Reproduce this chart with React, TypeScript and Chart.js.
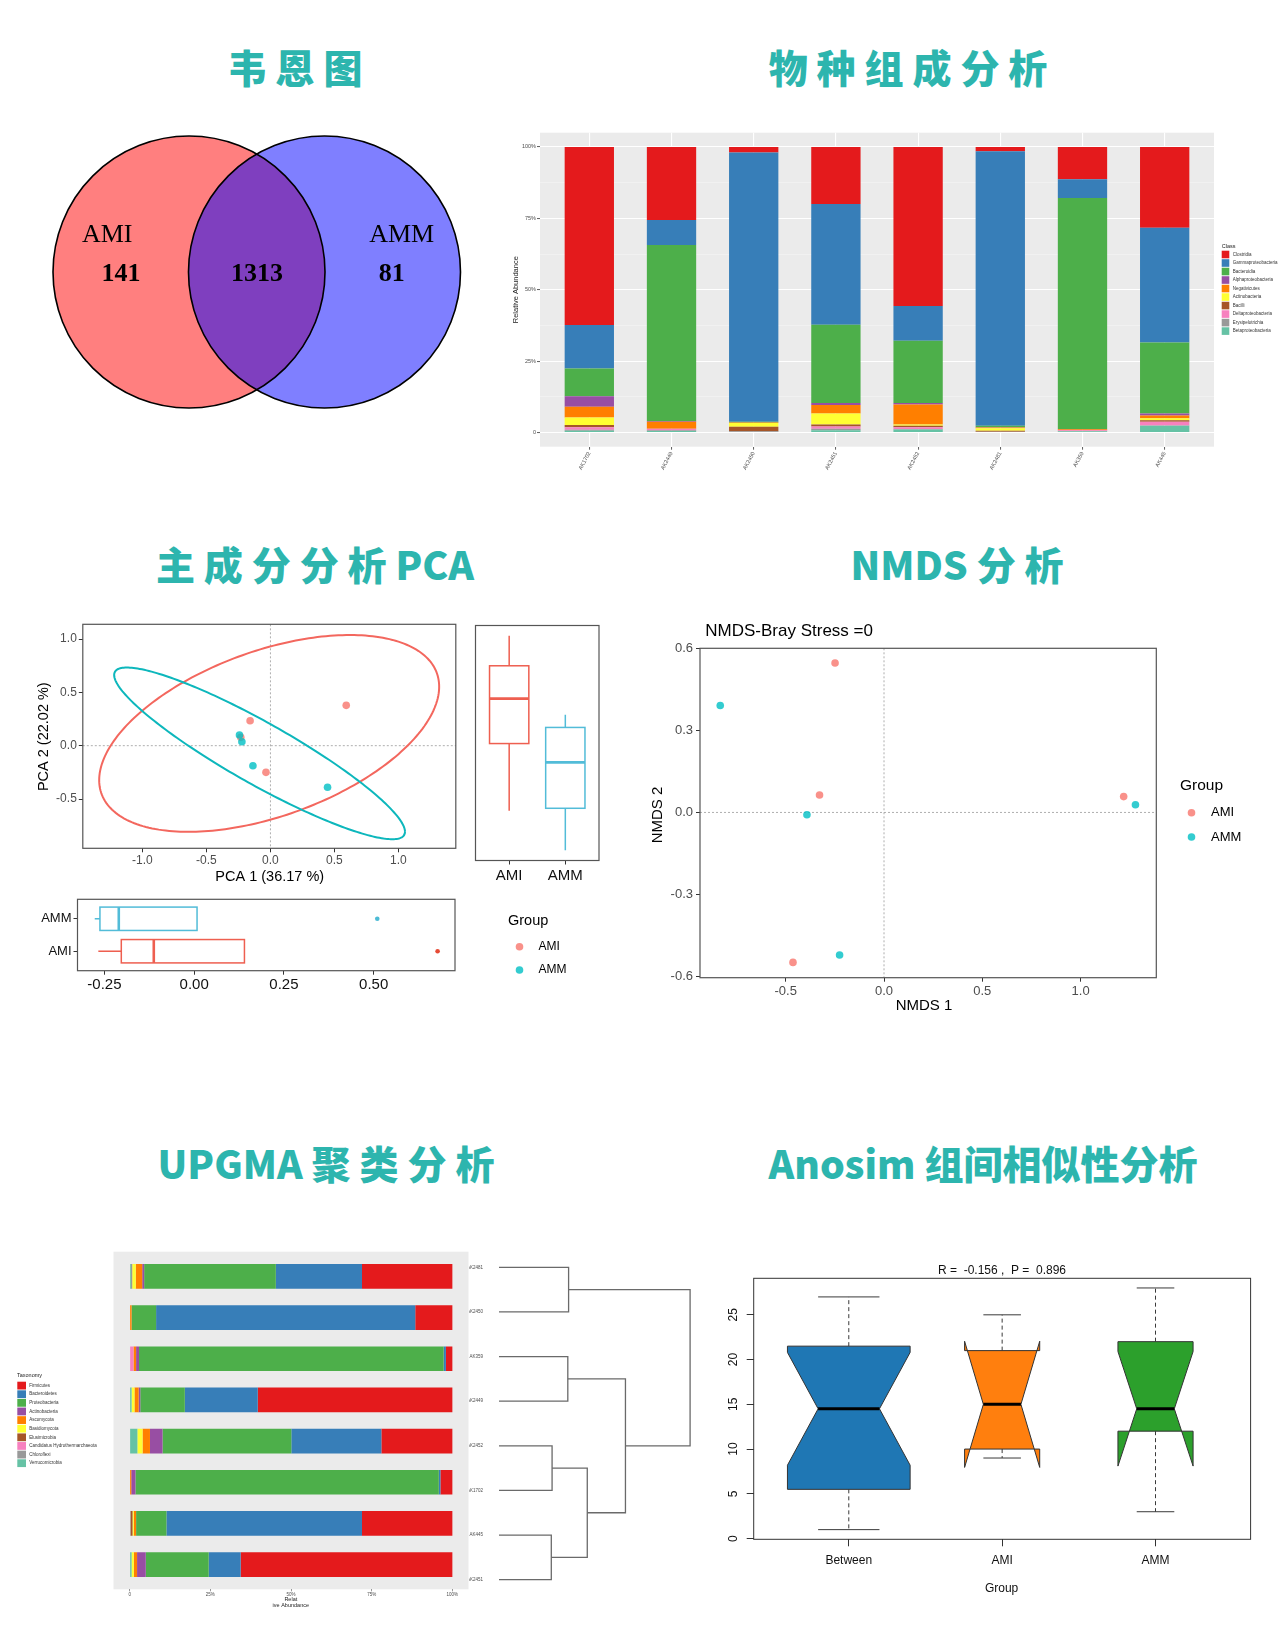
import React, { useEffect, useRef } from 'react';
import { Chart, registerables } from 'chart.js';

Chart.register(...registerables);
if (typeof document !== 'undefined') document.body.style.margin = '0';

const SANS = '"Liberation Sans", Arial, Helvetica, sans-serif';
const SERIF = '"Liberation Serif", "Times New Roman", serif';
const CJK = '"Noto Sans CJK SC", "Noto Sans", sans-serif';
Chart.defaults.font.family = SANS;

/* ====================== DATA ====================== */
// Venn
const vennSets = ['AMI', 'AMM'];
const vennCounts = [141, 1313, 81]; // AMI only, shared, AMM only

// Class composition (relative abundance, %)
const classSamples = ['AK1702', 'AK2449', 'AK2450', 'AK2451', 'AK2452', 'AK2481', 'AK359', 'AK445'];
const classNames = ['Clostridia', 'Gammaproteobacteria', 'Bacteroidia', 'Alphaproteobacteria', 'Negativicutes', 'Actinobacteria', 'Bacilli', 'Deltaproteobacteria', 'Erysipelotrichia', 'Betaproteobacteria'];
const clostridia = [62.4, 25.6, 1.9, 20.0, 55.7, 1.5, 11.3, 28.3];
const gammaproteobacteria = [15.2, 8.7, 94.4, 42.3, 12.2, 96.2, 6.6, 40.2];
const bacteroidia = [9.7, 61.7, 0.2, 27.4, 21.8, 0.5, 80.9, 24.9];
const alphaproteobacteria = [3.7, 0.3, 0.0, 0.7, 0.5, 0.1, 0.1, 0.7];
const negativicutes = [3.8, 2.4, 0.2, 3.0, 7.0, 0.2, 0.3, 0.9];
const actinobacteriaC = [2.6, 0.0, 1.3, 3.8, 0.5, 0.9, 0.0, 0.7];
const bacilli = [0.8, 0.0, 1.6, 0.7, 0.5, 0.4, 0.0, 0.6];
const deltaproteobacteria = [0.9, 0.5, 0.0, 0.8, 0.6, 0.0, 0.4, 1.3];
const erysipelotrichia = [0.3, 0.3, 0.4, 0.5, 0.2, 0.2, 0.0, 0.1];
const betaproteobacteria = [0.6, 0.5, 0.0, 0.8, 1.0, 0.0, 0.4, 2.3];
const classValues = [clostridia, gammaproteobacteria, bacteroidia, alphaproteobacteria, negativicutes, actinobacteriaC, bacilli, deltaproteobacteria, erysipelotrichia, betaproteobacteria];
const classYTicks = [0, 12.5, 25, 37.5, 50, 62.5, 75, 87.5, 100];
const classYTickLabels = ['0', '', '25%', '', '50%', '', '75%', '', '100%'];

// PCA
const groupNames = ['AMI', 'AMM'];
const pcaAmiPc1 = [0.592, -0.159, -0.035, -0.232];
const pcaAmiPc2 = [0.378, 0.234, -0.25, 0.078];
const pcaAmmPc1 = [-0.242, -0.223, -0.137, 0.446];
const pcaAmmPc2 = [0.1, 0.0375, -0.1875, -0.39];
const pcaXTicks = [-1, -0.5, 0, 0.5, 1];
const pcaXTickLabels = ['-1.0', '-0.5', '0.0', '0.5', '1.0'];
const pcaYTicks = [-0.5, 0, 0.5, 1];
const pcaYTickLabels = ['-0.5', '0.0', '0.5', '1.0'];
const pcaXTitle = 'PCA 1 (36.17 %)';
const pcaYTitle = 'PCA 2 (22.02 %)';
// confidence ellipses (centre and two conjugate semi-axes, PCA units)
const ellipseAmiCenter = [-0.01, 0.115];
const ellipseAmiAxisA = [1.328, 0.438];
const ellipseAmiAxisB = [0, 0.812];
const ellipseAmmCenter = [-0.085, -0.072];
const ellipseAmmAxisA = [1.136, -0.734];
const ellipseAmmAxisB = [0, 0.33];
// marginal boxplots: [lower whisker, Q1, median, Q3, upper whisker]
const pc2BoxAmi = [-0.252, -0.01, 0.152, 0.27, 0.378];
const pc2BoxAmm = [-0.394, -0.243, -0.078, 0.048, 0.094];
const pc1BoxAmi = [-0.267, -0.203, -0.1125, 0.14, 0.14];
const pc1BoxAmm = [-0.277, -0.2625, -0.21, 0.008, 0.008];
const pc1OutlierAmi = [0.678];
const pc1OutlierAmm = [0.51];
const pc1Ticks = [-0.25, 0, 0.25, 0.5];
const pc1TickLabels = ['-0.25', '0.00', '0.25', '0.50'];

// NMDS
const nmdsAmiX = [-0.249, -0.328, -0.463, 1.219];
const nmdsAmiY = [0.546, 0.064, -0.548, 0.058];
const nmdsAmmX = [-0.833, -0.392, -0.226, 1.279];
const nmdsAmmY = [0.391, -0.0085, -0.521, 0.028];
const nmdsXTicks = [-0.5, 0, 0.5, 1];
const nmdsXTickLabels = ['-0.5', '0.0', '0.5', '1.0'];
const nmdsYTicks = [-0.6, -0.3, 0, 0.3, 0.6];
const nmdsYTickLabels = ['-0.6', '-0.3', '0.0', '0.3', '0.6'];
const nmdsTitle = 'NMDS-Bray Stress =0';

// UPGMA (phylum composition, %, bars top to bottom)
const taxaNames = ['Firmicutes', 'Bacteroidetes', 'Proteobacteria', 'Actinobacteria', 'Ascomycota', 'Basidiomycota', 'Elusimicrobia', 'Candidatus Hydrothermarchaeota', 'Chloroflexi', 'Verrucomicrobia'];
const firmicutes = [28.0, 11.5, 2.0, 60.3, 22.0, 3.7, 28.0, 65.6];
const bacteroidetes = [26.7, 80.3, 0.7, 22.6, 27.9, 0.5, 60.6, 9.9];
const proteobacteria = [40.8, 7.6, 94.4, 13.8, 39.9, 94.0, 9.4, 19.5];
const actinobacteriaP = [0.6, 0.0, 0.9, 0.5, 3.9, 1.3, 0.0, 2.7];
const ascomycota = [2.0, 0.6, 0.8, 1.3, 2.3, 0.5, 0.7, 1.0];
const basidiomycota = [1.1, 0.0, 0.0, 0.9, 1.6, 0.0, 0.4, 0.7];
const elusimicrobia = [0, 0, 0, 0, 0, 0, 0.6, 0];
const candidatusHydro = [0, 0, 1.2, 0, 0, 0, 0, 0];
const chloroflexi = [0.4, 0, 0, 0, 0, 0, 0.3, 0];
const verrucomicrobia = [0.4, 0, 0, 0.6, 2.4, 0, 0, 0.6];
const taxaValues = [firmicutes, bacteroidetes, proteobacteria, actinobacteriaP, ascomycota, basidiomycota, elusimicrobia, candidatusHydro, chloroflexi, verrucomicrobia];
const upgmaXTicks = [0, 25, 50, 75, 100];
const upgmaXTickLabels = ['0', '25%', '50%', '75%', '100%'];
const dendroLeaves = ['AK2481', 'AK2450', 'AK359', 'AK2449', 'AK2452', 'AK1702', 'AK445', 'AK2451'];
const mergeLeft = [-1, -3, -5, -7, 3, 2, 1];
const mergeRight = [-2, -4, -6, -8, 4, 5, 6];
const mergeHeight = [0.177, 0.175, 0.135, 0.133, 0.2245, 0.3216, 0.486];
const dendroTicks = [0, 0.1, 0.2, 0.3, 0.4, 0.5];
const dendroTickLabels = ['0.0', '0.1', '0.2', '0.3', '0.4', '0.5'];

// Anosim
const anosimGroups = ['Between', 'AMI', 'AMM'];
const anosimMin = [1, 9, 3];
const anosimQ1 = [5.5, 10, 12];
const anosimMedian = [14.5, 15, 14.5];
const anosimQ3 = [21.5, 21, 22];
const anosimMax = [27, 25, 28];
const anosimNotchLow = [8.2, 7.95, 8.1];
const anosimNotchHigh = [20.8, 22.05, 20.9];
const anosimN = [16, 6, 6];
const anosimYTicks = [0, 5, 10, 15, 20, 25];
const anosimStat = 'R =  -0.156 ,  P =  0.896';

/* ====================== STYLES ====================== */
const TITLE_COLOR = '#2DB5AE';
const classColors = ['#E41A1C', '#377EB8', '#4DAF4A', '#984EA3', '#FF7F00', '#FFFF33', '#A65628', '#F781BF', '#999999', '#66C2A5'];
const taxaColors = classColors;
const PT_AMI = 'rgba(248,118,109,0.8)';
const PT_AMM = 'rgba(0,191,196,0.8)';
const BOX_AMI = '#EE5F50';
const BOX_AMM = '#52BCD8';
const anosimColors = ['#1F77B4', '#FF7F0E', '#2CA02C'];

type Pos = { left: number; top: number; width: number; height: number };
type Area = { l: number; t: number; r: number; b: number };

const padFor = (p: Pos, a: Area, yW: number, xH: number) => ({
  left: a.l - p.left - yW,
  top: a.t - p.top,
  right: p.left + p.width - a.r,
  bottom: p.top + p.height - a.b - xH,
});

function baseOptions(p: Pos, a: Area, yW: number, xH: number) {
  return {
    responsive: false,
    animation: false,
    events: [],
    layout: { padding: padFor(p, a, yW, xH), autoPadding: false },
    plugins: { legend: { display: false }, tooltip: { enabled: false }, title: { display: false } },
  };
}

const setTicks = (vals: number[]) => (s: any) => { s.ticks = vals.map((v) => ({ value: v })); };
const fixW = (w: number) => (s: any) => { s.width = w; };
const fixH = (h: number) => (s: any) => { s.height = h; };

function drawText(ctx: any, s: string, x: number, y: number, size: number, o: any = {}) {
  ctx.save();
  ctx.font = `${o.weight || 'normal'} ${size}px ${o.family || SANS}`;
  ctx.fillStyle = o.color || '#000';
  ctx.textAlign = o.align || 'center';
  ctx.textBaseline = o.baseline || 'middle';
  ctx.translate(x, y);
  if (o.rotate) ctx.rotate(o.rotate);
  ctx.fillText(s, 0, 0);
  ctx.restore();
}

function frame(chart: any, color = '#555', lw = 1.2) {
  const { ctx, chartArea: a } = chart;
  ctx.save();
  ctx.strokeStyle = color;
  ctx.lineWidth = lw;
  ctx.strokeRect(a.left, a.top, a.right - a.left, a.bottom - a.top);
  ctx.restore();
}

function zeroLines(chart: any) {
  const { ctx, chartArea: a, scales: { x, y } } = chart;
  ctx.save();
  ctx.strokeStyle = '#9A9A9A';
  ctx.lineWidth = 0.8;
  ctx.setLineDash([2, 2]);
  ctx.beginPath();
  const x0 = x.getPixelForValue(0), y0 = y.getPixelForValue(0);
  ctx.moveTo(x0, a.top); ctx.lineTo(x0, a.bottom);
  ctx.moveTo(a.left, y0); ctx.lineTo(a.right, y0);
  ctx.stroke();
  ctx.restore();
}

function groupLegend(ctx: any, p: Pos, x: number, y: number, titleSize: number, itemSize: number, dy1: number, dy2: number, textDx: number) {
  drawText(ctx, 'Group', x - p.left, y - p.top, titleSize, { align: 'left' });
  [PT_AMI, PT_AMM].forEach((c, i) => {
    const yy = y - p.top + dy1 + i * dy2;
    ctx.save();
    ctx.fillStyle = c;
    ctx.beginPath();
    ctx.arc(x - p.left + 11.5, yy, 3.8, 0, Math.PI * 2);
    ctx.fill();
    ctx.restore();
    drawText(ctx, groupNames[i], x - p.left + textDx, yy, itemSize, { align: 'left' });
  });
}

function linAxis(o: any) {
  const grid = o.grid || { drawOnChartArea: false, tickLength: o.tickLength !== undefined ? o.tickLength : 4, tickColor: '#333', tickWidth: 1, color: 'rgba(0,0,0,0)' };
  return {
    type: 'linear',
    display: o.display !== false,
    offset: false,
    min: o.min,
    max: o.max,
    reverse: !!o.reverse,
    stacked: !!o.stacked,
    afterBuildTicks: setTicks(o.ticks || []),
    afterFit: o.fitW !== undefined ? fixW(o.fitW) : o.fitH !== undefined ? fixH(o.fitH) : undefined,
    ticks: {
      display: o.showLabels !== false,
      autoSkip: false,
      callback: (_v: any, i: number) => (o.labels ? o.labels[i] : ''),
      font: { size: o.size || 12, family: SANS },
      color: o.color || '#4D4D4D',
      padding: o.padding !== undefined ? o.padding : 2,
      minRotation: o.rotation || 0,
      maxRotation: o.rotation || 0,
    },
    grid: { ...grid, offset: false },
    border: { display: false },
  };
}

/* ====================== CHART BUILDERS ====================== */
const VENN_POS: Pos = { left: 0, top: 117, width: 520, height: 310 };
const VENN_CX = [0, 1];
const VENN_R = 136;
function buildVenn(p: Pos) {
  const labels = {
    id: 'vennLabels',
    afterDatasetsDraw(chart: any) {
      const { ctx, scales: { x, y } } = chart;
      const nameX = [-0.604, 1.57];
      const countX = [-0.502, 0.502, 1.496];
      vennSets.forEach((s, i) => drawText(ctx, s, x.getPixelForValue(nameX[i]), y.getPixelForValue(0.239), 26, { family: SERIF }));
      vennCounts.forEach((c, i) => drawText(ctx, String(c), x.getPixelForValue(countX[i]), y.getPixelForValue(-0.013), 26, { family: SERIF, weight: 'bold' }));
    },
  };
  return {
    type: 'scatter',
    data: {
      datasets: [
        { data: [{ x: VENN_CX[0], y: 0 }], pointRadius: VENN_R, pointBackgroundColor: 'rgba(255,0,0,0.5)', pointBorderWidth: 0, order: 4, clip: false },
        { data: [{ x: VENN_CX[1], y: 0 }], pointRadius: VENN_R, pointBackgroundColor: 'rgba(0,0,255,0.5)', pointBorderWidth: 0, order: 3, clip: false },
        { data: VENN_CX.map((x) => ({ x, y: 0 })), pointRadius: VENN_R, pointBackgroundColor: 'rgba(0,0,0,0)', pointBorderColor: '#000', pointBorderWidth: 1.6, order: 1, clip: false },
      ],
    },
    options: {
      ...baseOptions(p, { l: p.left, t: p.top, r: p.left + p.width, b: p.top + p.height }, 0, 0),
      scales: { x: { display: false, min: -1.395, max: 2.443 }, y: { display: false, min: -1, max: 1 } },
    },
    plugins: [labels],
  };
}

const CLASS_POS: Pos = { left: 480, top: 120, width: 800, height: 380 };
const CLASS_AREA: Area = { l: 540, t: 132.7, r: 1214, b: 446.7 };
function buildClass(p: Pos) {
  const deco = {
    id: 'classDeco',
    beforeDraw(chart: any) {
      const { ctx, chartArea: a } = chart;
      ctx.save();
      ctx.fillStyle = '#EBEBEB';
      ctx.fillRect(a.left, a.top, a.right - a.left, a.bottom - a.top);
      ctx.restore();
    },
    afterDraw(chart: any) {
      const { ctx } = chart;
      drawText(ctx, 'Relative Abundance', 516 - p.left, 289.7 - p.top, 7.5, { rotate: -Math.PI / 2, color: '#222' });
      drawText(ctx, 'Class', 1221.7 - p.left, 246 - p.top, 5.5, { align: 'left', color: '#222' });
      classNames.forEach((n, i) => {
        const top = 250.7 + i * 8.51;
        ctx.save();
        ctx.fillStyle = classColors[i];
        ctx.fillRect(1221.7 - p.left, top - p.top, 7.6, 7.6);
        ctx.restore();
        drawText(ctx, n, 1232.7 - p.left, top + 3.8 - p.top, 4.5, { align: 'left', color: '#333' });
      });
    },
  };
  const datasets = classNames.map((n, i) => ({
    label: n,
    data: classValues[i].map((v, j) => ({ x: j + 1, y: v })),
    backgroundColor: classColors[i],
    borderWidth: 0,
    categoryPercentage: 1,
    barPercentage: 0.6,
  })).reverse();
  return {
    type: 'bar',
    data: { datasets },
    options: {
      ...baseOptions(p, CLASS_AREA, 30, 40),
      scales: {
        x: linAxis({
          min: 0.4, max: 8.6, stacked: true, ticks: classSamples.map((_, i) => i + 1), labels: classSamples,
          size: 5.5, rotation: 62, padding: 1, fitH: 40,
          grid: { drawOnChartArea: true, color: '#FFFFFF', lineWidth: 1.1, tickLength: 3, tickColor: '#333', tickWidth: 0.8 },
        }),
        y: linAxis({
          min: -5, max: 105, stacked: true, ticks: classYTicks, labels: classYTickLabels, size: 5.5, padding: 1, fitW: 30,
          grid: {
            drawOnChartArea: true,
            color: (c: any) => (c.tick && c.tick.value % 25 === 0 ? '#FFFFFF' : 'rgba(255,255,255,0.6)'),
            lineWidth: (c: any) => (c.tick && c.tick.value % 25 === 0 ? 1.1 : 0.55),
            tickColor: (c: any) => (c.tick && c.tick.value % 25 === 0 ? '#333' : 'rgba(0,0,0,0)'),
            tickLength: 3, tickWidth: 0.8,
          },
        }),
      },
    },
    plugins: [deco],
  };
}

const PCA_POS: Pos = { left: 0, top: 600, width: 470, height: 285 };
const PCA_AREA: Area = { l: 82.8, t: 624.3, r: 455.8, b: 848.3 };
function ellipsePath(chart: any, c: number[], a: number[], b: number[], color: string) {
  const { ctx, scales: { x, y } } = chart;
  ctx.save();
  ctx.beginPath();
  for (let k = 0; k <= 240; k++) {
    const t = (k / 240) * Math.PI * 2;
    const dx = c[0] + a[0] * Math.cos(t) + b[0] * Math.sin(t);
    const dy = c[1] + a[1] * Math.cos(t) + b[1] * Math.sin(t);
    const px = x.getPixelForValue(dx), py = y.getPixelForValue(dy);
    if (k === 0) ctx.moveTo(px, py); else ctx.lineTo(px, py);
  }
  ctx.strokeStyle = color;
  ctx.lineWidth = 2;
  ctx.stroke();
  ctx.restore();
}
function buildPca(p: Pos) {
  const deco = {
    id: 'pcaDeco',
    beforeDatasetsDraw(chart: any) {
      zeroLines(chart);
      ellipsePath(chart, ellipseAmiCenter, ellipseAmiAxisA, ellipseAmiAxisB, '#F3675E');
      ellipsePath(chart, ellipseAmmCenter, ellipseAmmAxisA, ellipseAmmAxisB, '#0DB7BC');
    },
    afterDraw(chart: any) {
      const { ctx } = chart;
      frame(chart);
      drawText(ctx, pcaXTitle, 269.7 - p.left, 876.7 - p.top, 14.5);
      drawText(ctx, pcaYTitle, 44 - p.left, 736.7 - p.top, 14.5, { rotate: -Math.PI / 2 });
    },
  };
  return {
    type: 'scatter',
    data: {
      datasets: [
        { data: pcaAmiPc1.map((x, i) => ({ x, y: pcaAmiPc2[i] })), pointRadius: 3.8, pointBackgroundColor: PT_AMI, pointBorderWidth: 0, order: 2 },
        { data: pcaAmmPc1.map((x, i) => ({ x, y: pcaAmmPc2[i] })), pointRadius: 3.8, pointBackgroundColor: PT_AMM, pointBorderWidth: 0, order: 1 },
      ],
    },
    options: {
      ...baseOptions(p, PCA_AREA, 40, 22),
      scales: {
        x: linAxis({ min: -1.466, max: 1.448, ticks: pcaXTicks, labels: pcaXTickLabels, size: 12, padding: 1.5, fitH: 22 }),
        y: linAxis({ min: -0.962, max: 1.138, ticks: pcaYTicks, labels: pcaYTickLabels, size: 12, padding: 2, fitW: 40 }),
      },
    },
    plugins: [deco],
  };
}

function drawBoxV(chart: any, c: number, hw: number, s: number[], color: string) {
  const { ctx, scales: { x, y } } = chart;
  const X = (v: number) => x.getPixelForValue(v), Y = (v: number) => y.getPixelForValue(v);
  ctx.save();
  ctx.strokeStyle = color;
  ctx.lineWidth = 1.5;
  ctx.beginPath();
  ctx.moveTo(X(c), Y(s[3])); ctx.lineTo(X(c), Y(s[4]));
  ctx.moveTo(X(c), Y(s[1])); ctx.lineTo(X(c), Y(s[0]));
  ctx.stroke();
  ctx.strokeRect(X(c - hw), Y(s[3]), X(c + hw) - X(c - hw), Y(s[1]) - Y(s[3]));
  ctx.lineWidth = 2.8;
  ctx.beginPath();
  ctx.moveTo(X(c - hw), Y(s[2])); ctx.lineTo(X(c + hw), Y(s[2]));
  ctx.stroke();
  ctx.restore();
}
function drawBoxH(chart: any, c: number, hw: number, s: number[], color: string) {
  const { ctx, scales: { x, y } } = chart;
  const X = (v: number) => x.getPixelForValue(v), Y = (v: number) => y.getPixelForValue(v);
  ctx.save();
  ctx.strokeStyle = color;
  ctx.lineWidth = 1.5;
  ctx.beginPath();
  ctx.moveTo(X(s[3]), Y(c)); ctx.lineTo(X(s[4]), Y(c));
  ctx.moveTo(X(s[1]), Y(c)); ctx.lineTo(X(s[0]), Y(c));
  ctx.stroke();
  ctx.strokeRect(X(s[1]), Y(c + hw), X(s[3]) - X(s[1]), Y(c - hw) - Y(c + hw));
  ctx.lineWidth = 2.6;
  ctx.beginPath();
  ctx.moveTo(X(s[2]), Y(c - hw)); ctx.lineTo(X(s[2]), Y(c + hw));
  ctx.stroke();
  ctx.restore();
}

const PC2_POS: Pos = { left: 462, top: 600, width: 150, height: 290 };
const PC2_AREA: Area = { l: 475.5, t: 625.5, r: 599, b: 860.5 };
function buildPc2(p: Pos) {
  const deco = {
    id: 'pc2Deco',
    afterDraw(chart: any) {
      drawBoxV(chart, 1, 0.35, pc2BoxAmi, BOX_AMI);
      drawBoxV(chart, 2, 0.35, pc2BoxAmm, BOX_AMM);
      frame(chart);
    },
  };
  return {
    type: 'scatter',
    data: { datasets: [] },
    options: {
      ...baseOptions(p, PC2_AREA, 0, 25),
      scales: {
        x: linAxis({ min: 0.4, max: 2.6, ticks: [1, 2], labels: groupNames, size: 15, color: '#111', padding: 2, fitH: 25 }),
        y: { type: 'linear', display: false, min: -0.431, max: 0.415 },
      },
    },
    plugins: [deco],
  };
}

const PC1_POS: Pos = { left: 0, top: 885, width: 620, height: 120 };
const PC1_AREA: Area = { l: 77.5, t: 899.3, r: 455, b: 970.7 };
function buildPc1(p: Pos) {
  const deco = {
    id: 'pc1Deco',
    afterDraw(chart: any) {
      drawBoxH(chart, 1, 0.36, pc1BoxAmi, BOX_AMI);
      drawBoxH(chart, 2, 0.36, pc1BoxAmm, BOX_AMM);
      frame(chart);
      groupLegend(chart.ctx, p, 508, 921, 14.5, 12, 25.7, 23.3, 30.6);
    },
  };
  return {
    type: 'scatter',
    data: {
      datasets: [
        { data: pc1OutlierAmi.map((x) => ({ x, y: 1 })), pointRadius: 2.3, pointBackgroundColor: '#E64B35', pointBorderWidth: 0 },
        { data: pc1OutlierAmm.map((x) => ({ x, y: 2 })), pointRadius: 2.3, pointBackgroundColor: '#4DBBD5', pointBorderWidth: 0 },
      ],
    },
    options: {
      ...baseOptions(p, PC1_AREA, 40, 24),
      scales: {
        x: linAxis({ min: -0.325, max: 0.7265, ticks: pc1Ticks, labels: pc1TickLabels, size: 15, color: '#111', padding: 1.5, fitH: 24 }),
        y: linAxis({ min: 0.4, max: 2.6, ticks: [1, 2], labels: groupNames, size: 13, color: '#111', padding: 2, fitW: 40 }),
      },
    },
    plugins: [deco],
  };
}

const NMDS_POS: Pos = { left: 630, top: 600, width: 650, height: 420 };
const NMDS_AREA: Area = { l: 700, t: 648.3, r: 1156.3, b: 977.7 };
function buildNmds(p: Pos) {
  const deco = {
    id: 'nmdsDeco',
    beforeDatasetsDraw(chart: any) { zeroLines(chart); },
    afterDraw(chart: any) {
      const { ctx } = chart;
      frame(chart);
      drawText(ctx, nmdsTitle, 705.3 - p.left, 631 - p.top, 17, { align: 'left' });
      drawText(ctx, 'NMDS 1', 924 - p.left, 1006 - p.top, 15);
      drawText(ctx, 'NMDS 2', 658 - p.left, 815 - p.top, 15, { rotate: -Math.PI / 2 });
      groupLegend(ctx, p, 1180, 786, 15.5, 13, 26.7, 24.3, 31);
    },
  };
  return {
    type: 'scatter',
    data: {
      datasets: [
        { data: nmdsAmiX.map((x, i) => ({ x, y: nmdsAmiY[i] })), pointRadius: 3.8, pointBackgroundColor: PT_AMI, pointBorderWidth: 0, order: 2 },
        { data: nmdsAmmX.map((x, i) => ({ x, y: nmdsAmmY[i] })), pointRadius: 3.8, pointBackgroundColor: PT_AMM, pointBorderWidth: 0, order: 1 },
      ],
    },
    options: {
      ...baseOptions(p, NMDS_AREA, 40, 22),
      scales: {
        x: linAxis({ min: -0.936, max: 1.385, ticks: nmdsXTicks, labels: nmdsXTickLabels, size: 13, padding: 1.5, fitH: 22 }),
        y: linAxis({ min: -0.604, max: 0.6, ticks: nmdsYTicks, labels: nmdsYTickLabels, size: 13, padding: 3, fitW: 40 }),
      },
    },
    plugins: [deco],
  };
}

const UPGMA_POS: Pos = { left: 0, top: 1240, width: 480, height: 400 };
const UPGMA_AREA: Area = { l: 113.5, t: 1251.7, r: 468.5, b: 1589.3 };
function buildUpgma(p: Pos) {
  const deco = {
    id: 'upgmaDeco',
    beforeDraw(chart: any) {
      const { ctx, chartArea: a } = chart;
      ctx.save();
      ctx.fillStyle = '#EBEBEB';
      ctx.fillRect(a.left, a.top, a.right - a.left, a.bottom - a.top);
      ctx.restore();
    },
    afterDraw(chart: any) {
      const { ctx } = chart;
      drawText(ctx, 'Relat', 290.8 - p.left, 1599 - p.top, 5.5, { color: '#222' });
      drawText(ctx, 'ive Abundance', 290.8 - p.left, 1605 - p.top, 5.5, { color: '#222' });
      drawText(ctx, 'Taxonomy', 17 - p.left, 1375.7 - p.top, 5.5, { align: 'left', color: '#222' });
      taxaNames.forEach((n, i) => {
        const top = 1381.7 + i * 8.62;
        ctx.save();
        ctx.fillStyle = taxaColors[i];
        ctx.fillRect(17.3 - p.left, top - p.top, 8.7, 7.8);
        ctx.restore();
        drawText(ctx, n, 29.3 - p.left, top + 3.9 - p.top, 4.5, { align: 'left', color: '#333' });
      });
    },
  };
  const datasets = taxaNames.map((n, i) => ({
    label: n,
    data: taxaValues[i].map((v, j) => ({ x: v, y: j + 1 })),
    backgroundColor: taxaColors[i],
    borderWidth: 0,
    categoryPercentage: 1,
    barPercentage: 0.6,
  })).reverse();
  return {
    type: 'bar',
    data: { datasets },
    options: {
      ...baseOptions(p, UPGMA_AREA, 0, 10),
      indexAxis: 'y',
      scales: {
        x: linAxis({
          min: -5, max: 105, stacked: true, ticks: upgmaXTicks, labels: upgmaXTickLabels, size: 4.5, padding: 1, fitH: 10,
          grid: { drawOnChartArea: false, color: 'rgba(0,0,0,0)', tickLength: 2, tickColor: '#555', tickWidth: 0.6 },
        }),
        y: {
          type: 'linear', display: false, offset: false, grid: { offset: false }, min: 0.4, max: 8.6, reverse: true, stacked: true,
          afterBuildTicks: setTicks(dendroLeaves.map((_, i) => i + 1)),
        },
      },
    },
    plugins: [deco],
  };
}

const DENDRO_POS: Pos = { left: 440, top: 1250, width: 280, height: 390 };
const DENDRO_AREA: Area = { l: 499, t: 1262, r: 695.6, b: 1585 };
function buildDendro(p: Pos) {
  const nodeY: number[] = [];
  const nodeH: number[] = [];
  const node = (id: number) => (id < 0 ? { y: -id, h: 0 } : { y: nodeY[id - 1], h: nodeH[id - 1] });
  const links: any[] = [];
  mergeHeight.forEach((h, k) => {
    const A = node(mergeLeft[k]);
    const B = node(mergeRight[k]);
    links.push([{ x: A.h, y: A.y }, { x: h, y: A.y }, { x: h, y: B.y }, { x: B.h, y: B.y }]);
    nodeY.push((A.y + B.y) / 2);
    nodeH.push(h);
  });
  return {
    type: 'scatter',
    data: {
      datasets: links.map((d) => ({ data: d, showLine: true, pointRadius: 0, borderColor: '#6A6A6A', borderWidth: 1.3, fill: false, clip: false, tension: 0 })),
    },
    options: {
      ...baseOptions(p, DENDRO_AREA, 30, 10),
      scales: {
        x: linAxis({ min: 0, max: 0.5, ticks: dendroTicks, labels: dendroTickLabels, size: 4.5, padding: 12, fitH: 10, grid: { display: false } }),
        y: linAxis({ min: 0.88, max: 8.12, reverse: true, ticks: dendroLeaves.map((_, i) => i + 1), labels: dendroLeaves, size: 4.5, padding: 8, fitW: 30, grid: { display: false } }),
      },
    },
  };
}

const ANOSIM_POS: Pos = { left: 690, top: 1250, width: 590, height: 390 };
const ANOSIM_AREA: Area = { l: 753.7, t: 1278.3, r: 1250.6, b: 1539.3 };
function buildAnosim(p: Pos) {
  const deco = {
    id: 'anosimDeco',
    afterDraw(chart: any) {
      const { ctx, scales: { x, y } } = chart;
      const X = (v: number) => x.getPixelForValue(v), Y = (v: number) => y.getPixelForValue(v);
      const maxN = Math.max(...anosimN);
      anosimGroups.forEach((_, i) => {
        const c = i + 1;
        const hw = 0.4 * Math.sqrt(anosimN[i] / maxN);
        ctx.save();
        ctx.strokeStyle = '#3A3A3A';
        ctx.lineWidth = 1;
        ctx.setLineDash([4, 3]);
        ctx.beginPath();
        ctx.moveTo(X(c), Y(anosimQ3[i])); ctx.lineTo(X(c), Y(anosimMax[i]));
        ctx.moveTo(X(c), Y(anosimQ1[i])); ctx.lineTo(X(c), Y(anosimMin[i]));
        ctx.stroke();
        ctx.setLineDash([]);
        ctx.beginPath();
        ctx.moveTo(X(c - hw / 2), Y(anosimMax[i])); ctx.lineTo(X(c + hw / 2), Y(anosimMax[i]));
        ctx.moveTo(X(c - hw / 2), Y(anosimMin[i])); ctx.lineTo(X(c + hw / 2), Y(anosimMin[i]));
        ctx.stroke();
        ctx.beginPath();
        ctx.moveTo(X(c - hw), Y(anosimQ1[i]));
        ctx.lineTo(X(c - hw), Y(anosimNotchLow[i]));
        ctx.lineTo(X(c - hw / 2), Y(anosimMedian[i]));
        ctx.lineTo(X(c - hw), Y(anosimNotchHigh[i]));
        ctx.lineTo(X(c - hw), Y(anosimQ3[i]));
        ctx.lineTo(X(c + hw), Y(anosimQ3[i]));
        ctx.lineTo(X(c + hw), Y(anosimNotchHigh[i]));
        ctx.lineTo(X(c + hw / 2), Y(anosimMedian[i]));
        ctx.lineTo(X(c + hw), Y(anosimNotchLow[i]));
        ctx.lineTo(X(c + hw), Y(anosimQ1[i]));
        ctx.closePath();
        ctx.fillStyle = anosimColors[i];
        ctx.fill();
        ctx.strokeStyle = '#333';
        ctx.lineWidth = 1;
        ctx.stroke();
        ctx.lineWidth = 3;
        ctx.strokeStyle = '#000';
        ctx.beginPath();
        ctx.moveTo(X(c - hw / 2), Y(anosimMedian[i])); ctx.lineTo(X(c + hw / 2), Y(anosimMedian[i]));
        ctx.stroke();
        ctx.restore();
      });
      frame(chart, '#333', 1);
      anosimYTicks.forEach((v) => drawText(ctx, String(v), 733.5 - p.left, Y(v), 12, { rotate: -Math.PI / 2, color: '#111' }));
      drawText(ctx, anosimStat, 1002 - p.left, 1271 - p.top, 12, { color: '#111' });
      drawText(ctx, 'Group', 1001.6 - p.left, 1588.3 - p.top, 12, { color: '#111' });
    },
  };
  return {
    type: 'scatter',
    data: { datasets: [] },
    options: {
      ...baseOptions(p, ANOSIM_AREA, 30, 30),
      scales: {
        x: linAxis({ min: 0.38, max: 3.62, ticks: [1, 2, 3], labels: anosimGroups, size: 12, color: '#111', padding: 7, tickLength: 7, fitH: 30 }),
        y: linAxis({ min: -0.08, max: 29.08, ticks: anosimYTicks, showLabels: false, tickLength: 7, fitW: 30 }),
      },
    },
    plugins: [deco],
  };
}

/* ====================== COMPONENTS ====================== */
function ChartBox({ pos, build }: { pos: Pos; build: (p: Pos) => any }) {
  const ref = useRef<HTMLCanvasElement | null>(null);
  useEffect(() => {
    if (!ref.current) return;
    const chart = new Chart(ref.current, build(pos));
    return () => chart.destroy();
  }, []);
  return (
    <canvas
      ref={ref}
      width={pos.width}
      height={pos.height}
      style={{ position: 'absolute', left: pos.left, top: pos.top, width: pos.width, height: pos.height }}
    />
  );
}

const panelTitles = [
  { text: '韦 恩 图', x: 295, y: 66 },
  { text: '物 种 组 成 分 析', x: 908, y: 66 },
  { text: '主 成 分 分 析 PCA', x: 315, y: 563 },
  { text: 'NMDS 分 析', x: 957, y: 563 },
  { text: 'UPGMA 聚 类 分 析', x: 326, y: 1162 },
  { text: 'Anosim 组间相似性分析', x: 983, y: 1162 },
];

export default function App() {
  return (
    <div style={{ position: 'relative', width: 1280, height: 1640, background: '#fff', overflow: 'hidden' }}>
      {panelTitles.map((t) => (
        <div
          key={t.text}
          style={{
            position: 'absolute', left: t.x, top: t.y, transform: 'translate(-50%, -50%)',
            fontFamily: CJK, fontWeight: 900, fontSize: 39, lineHeight: '39px', color: TITLE_COLOR, whiteSpace: 'pre',
          }}
        >
          {t.text}
        </div>
      ))}
      <ChartBox pos={VENN_POS} build={buildVenn} />
      <ChartBox pos={CLASS_POS} build={buildClass} />
      <ChartBox pos={PCA_POS} build={buildPca} />
      <ChartBox pos={PC2_POS} build={buildPc2} />
      <ChartBox pos={PC1_POS} build={buildPc1} />
      <ChartBox pos={NMDS_POS} build={buildNmds} />
      <ChartBox pos={UPGMA_POS} build={buildUpgma} />
      <ChartBox pos={DENDRO_POS} build={buildDendro} />
      <ChartBox pos={ANOSIM_POS} build={buildAnosim} />
    </div>
  );
}
